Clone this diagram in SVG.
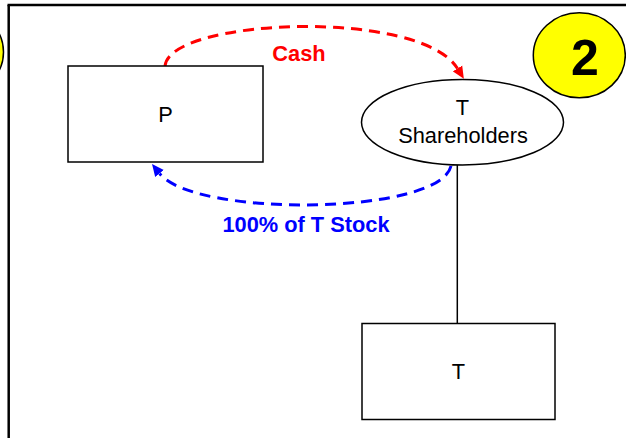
<svg xmlns="http://www.w3.org/2000/svg" width="626" height="438" viewBox="0 0 626 438">
<style>
.box{fill:#fff;stroke:#000;stroke-width:1.5}
.lbl{font-family:"Liberation Sans",Arial,sans-serif;font-size:21.8px;text-anchor:middle;fill:#000}
.bold{font-weight:bold}
.badge{fill:#ffff00;stroke:#000;stroke-width:1.5}
.frame{stroke:#000;stroke-width:2.5;fill:none}
.flow{fill:none;stroke-width:3;stroke-dasharray:11,7}
</style>
<defs>
<marker id="arrRed" markerUnits="userSpaceOnUse" markerWidth="13" markerHeight="12" viewBox="0 -6 13 12" refX="0" refY="0" orient="auto">
<path d="M0,-5.5 L12,0 L0,5.5 z" fill="#ff0000"/>
</marker>
<marker id="arrBlue" markerUnits="userSpaceOnUse" markerWidth="13" markerHeight="12" viewBox="0 -6 13 12" refX="0" refY="0" orient="auto">
<path d="M0,-5.5 L12,0 L0,5.5 z" fill="#0000ff"/>
</marker>
</defs>
<rect width="626" height="438" fill="#fff"/>
<g id="frame">
<line class="frame" x1="7.5" y1="5" x2="626" y2="5"/>
<line class="frame" x1="8.7" y1="5" x2="8.7" y2="438"/>
</g>
<g id="badge-prev">
<ellipse class="badge" cx="-42.5" cy="52" rx="46" ry="43"/>
</g>
<g id="badge-2">
<ellipse class="badge" cx="579.3" cy="55.3" rx="46" ry="42.5"/>
<text class="lbl bold" x="585" y="75" style="font-size:50px">2</text>
</g>
<g id="connectors">
<path class="flow" stroke="#ff0000" d="M165,66 C170,18 420,8 457.5,68.5" marker-end="url(#arrRed)"/>
<path class="flow" stroke="#0000ff" d="M451,166 C440,215 195,218 159.5,173.5" marker-end="url(#arrBlue)"/>
<line x1="457.3" y1="165" x2="457.3" y2="323" stroke="#000" stroke-width="1.5"/>
<text class="lbl bold" x="299" y="60.7" style="fill:#ff0000">Cash</text>
<text class="lbl bold" x="306" y="231.7" style="fill:#0000ff">100% of T Stock</text>
</g>
<g id="node-P">
<rect class="box" x="68" y="66" width="195" height="96"/>
<text class="lbl" x="165.5" y="122">P</text>
</g>
<g id="node-TShareholders">
<ellipse class="box" cx="462.5" cy="122.2" rx="101" ry="42.8"/>
<text class="lbl" x="462.5" y="115">T</text>
<text class="lbl" x="463" y="142.7">Shareholders</text>
</g>
<g id="node-T">
<rect class="box" x="362" y="323.5" width="193" height="96"/>
<text class="lbl" x="458.5" y="379.3">T</text>
</g>
</svg>
